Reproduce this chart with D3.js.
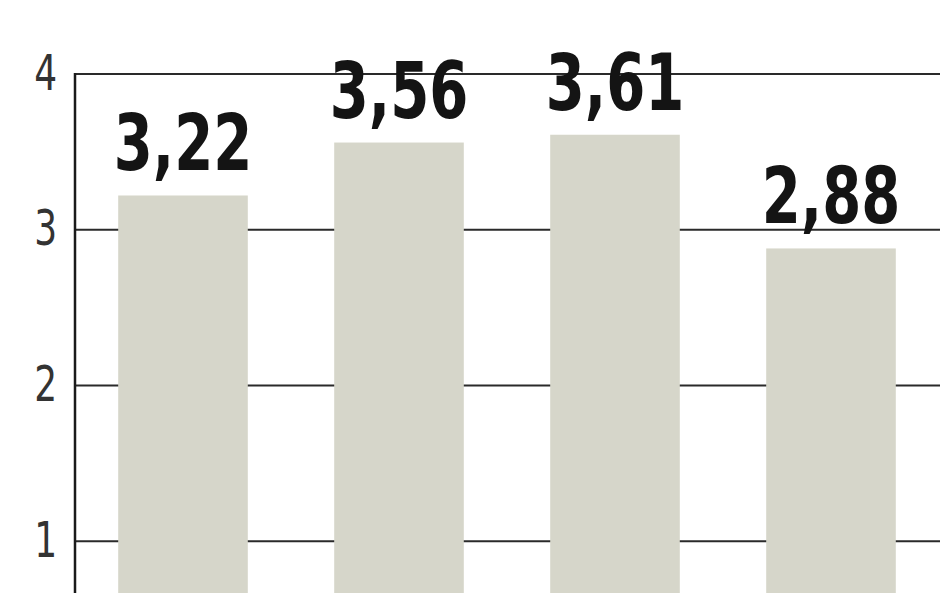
<!DOCTYPE html>
<html>
<meta charset="utf-8">
<title>Bar chart</title>
<script src="https://d3js.org/d3.v7.min.js"></script>
<style>
  body { margin: 0; background: #fff; }
  svg { display: block; }
</style>
<body>
<script>
  var categories = ["a", "b", "c", "d"];
  var values = [3.22, 3.56, 3.61, 2.88];
  var tickValues = [1, 2, 3, 4];

  var width = 948;
  var height = 593;
  var left = 75;

  var svg = d3.select("body").append("svg")
    .attr("width", width)
    .attr("height", height);

  var xScale = d3.scaleBand()
    .domain(categories)
    .range([left, 939])
    .paddingInner(0.4)
    .paddingOuter(0.2);

  var yScale = d3.scaleLinear()
    .domain([0, 4])
    .range([697, 74]);

  // gridlines
  svg.append("g")
    .selectAll("line")
    .data(tickValues)
    .enter()
    .append("line")
    .attr("x1", left)
    .attr("x2", 940)
    .attr("y1", function(d) { return yScale(d); })
    .attr("y2", function(d) { return yScale(d); })
    .attr("stroke", "#2a2a2a")
    .attr("stroke-width", 2);

  // y axis
  var axisY = d3.axisLeft(yScale)
    .tickValues(tickValues)
    .tickFormat(d3.format("d"))
    .tickSize(0)
    .tickPadding(15);
  var gy = svg.append("g")
    .attr("transform", "translate(" + left + ",0)")
    .call(axisY);
  gy.select(".domain").remove();
  gy.selectAll("text")
    .attr("font-family", "DejaVu Sans")
    .attr("font-stretch", "condensed")
    .attr("font-size", 50)
    .attr("fill", "#333")
    .attr("dy", "0.3em")
    .attr("transform", "scale(0.8,1)")
    .attr("x", -18 / 0.8);
  svg.append("line")
    .attr("x1", left).attr("x2", left)
    .attr("y1", yScale(4) - 1).attr("y2", height)
    .attr("stroke", "#1a1a1a")
    .attr("stroke-width", 2.5);

  // bars
  svg.selectAll("rect.bar")
    .data(values)
    .enter()
    .append("rect")
    .attr("class", "bar")
    .attr("x", function(d, i) { return xScale(categories[i]); })
    .attr("y", function(d) { return yScale(d); })
    .attr("width", xScale.bandwidth())
    .attr("height", function(d) { return yScale(0) - yScale(d); })
    .attr("fill", "#d6d6ca");

  // value labels
  svg.selectAll("text.val")
    .data(values)
    .enter()
    .append("text")
    .attr("class", "val")
    .attr("transform", function(d, i) {
      var cx = xScale(categories[i]) + xScale.bandwidth() / 2;
      return "translate(" + cx + "," + (yScale(d) - 25) + ") scale(0.8,1)";
    })
    .attr("text-anchor", "middle")
    .attr("font-family", "DejaVu Sans")
    .attr("font-stretch", "condensed")
    .attr("font-weight", "bold")
    .attr("font-size", 78)
    .attr("fill", "#141414")
    .text(function(d) { return d.toFixed(2).replace(".", ","); });
</script>
</body>
</html>
